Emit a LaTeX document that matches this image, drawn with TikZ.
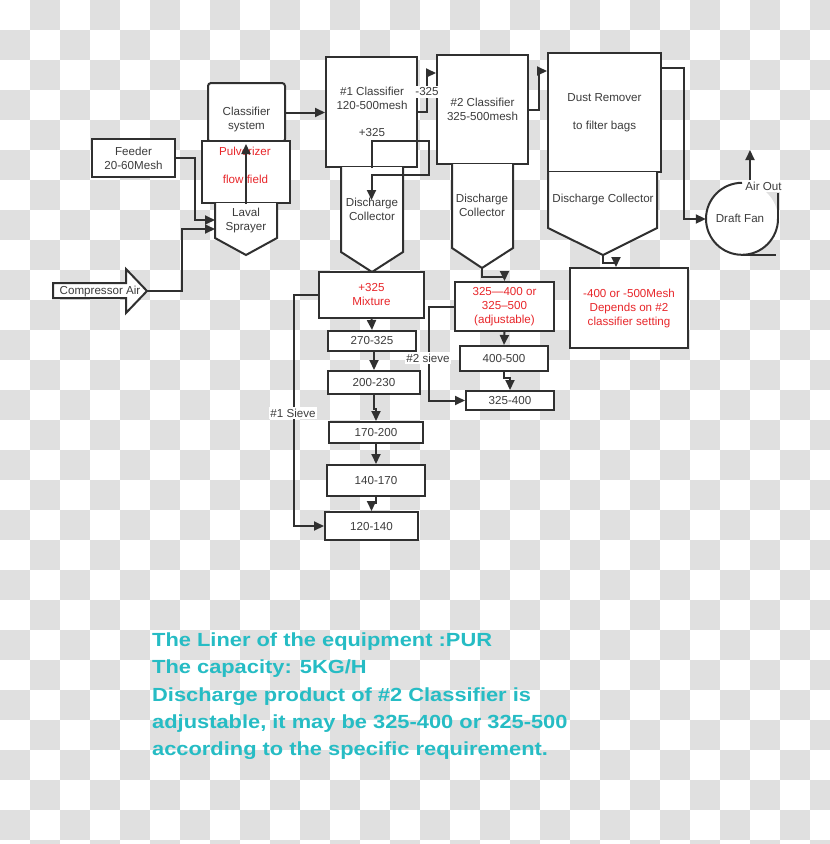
\documentclass[tikz,border=0pt]{standalone}
\usepackage{fontspec}
\setmainfont{Liberation Sans}
\newfontfamily\cyanfont[FakeStretch=1.15]{Liberation Sans}
\usetikzlibrary{arrows.meta,calc}
\definecolor{linec}{RGB}{48,48,48}
\definecolor{textc}{RGB}{60,60,60}
\definecolor{redc}{RGB}{232,38,42}
\definecolor{cyanc}{RGB}{38,188,196}
\definecolor{checkc}{RGB}{224,224,224}
\newcommand\diafont{\fontsize{11.6}{14}\selectfont}
\begin{document}
\begin{tikzpicture}[x=1pt,y=-1pt,
  box/.style={draw=linec,line width=2pt,fill=white,inner sep=0pt,text=textc,font=\diafont,align=center},
  outl/.style={draw=linec,line width=2pt,fill=white},
  ln/.style={draw=linec,line width=2pt},
  arr/.style={draw=linec,line width=2pt,-{Triangle[length=10pt,width=9pt]}},
  txt/.style={text=textc,font=\diafont,align=center,inner sep=0pt},
  redtxt/.style={text=redc,font=\diafont,align=center,inner sep=0pt},
  lbl/.style={fill=white,inner sep=1.5pt,text=textc,font=\diafont},
  cyantxt/.style={text=cyanc,font=\cyanfont\bfseries\fontsize{19}{27}\selectfont,inner sep=0pt,anchor=base west}]
\useasboundingbox (0,0) rectangle (830,844);
% checkered background
\begin{scope}
\clip (0,0) rectangle (830,844);
\fill[white] (0,0) rectangle (830,844);
\foreach \i in {0,...,27}{\foreach \j in {0,...,28}{
  \pgfmathtruncatemacro\chk{mod(\i+\j,2)}
  \ifnum\chk=1 \fill[checkc] ({30*\i},{30*\j}) rectangle ++(30,30);\fi
}}
\end{scope}

% feeder, classifier system, pulverizer, laval
\node[box,minimum width=83pt,minimum height=38pt] (feeder) at (133.5,158) {Feeder\\20-60Mesh};
\node[box,rounded corners=3pt,minimum width=77pt,minimum height=59pt] (clsys) at (246.5,112.5) {};
\node[txt] (clsysT) at (246.5,119) {Classifier\\system};
\node[box,minimum width=88pt,minimum height=62pt] (pulv) at (246,172) {};
\node[redtxt] (pulvA) at (245,151) {Pulverizer};
\node[redtxt] (pulvB) at (245.5,179) {flow field};
\path[outl] (215,203) -- (215,238) -- (246,255) -- (277,238) -- (277,203);
\coordinate (lavalA) at (215,220);
\coordinate (lavalB) at (215,229);
\node[txt] (lavalT) at (246,220.5) {Laval\\Sprayer};

% compressor air
\path[outl] (53,283) -- (126,283) -- (126,269) -- (147,291) -- (126,313) -- (126,298) -- (53,298) -- cycle;
\coordinate (comptip) at (147,291);
\node[txt] (compT) at (100,291) {Compressor Air};

% classifier 1
\node[box,minimum width=91pt,minimum height=110pt] (c1) at (371.5,112) {};
\node[txt] (c1T) at (372,98.4) {\#1 Classifier\\120-500mesh};
\node[txt] (c1P) at (372,133) {+325};
\path[outl] (341,167) -- (341,252) -- (372,272) -- (403,252) -- (403,167);
\node[txt] (col1T) at (372,209) {Discharge\\Collector};
\coordinate (c1arr) at (371.5,200);

% classifier 2
\node[box,minimum width=91pt,minimum height=109pt] (c2) at (482.5,109.5) {\#2 Classifier\\325-500mesh};
\path[outl] (452,164) -- (452,248) -- (482,268) -- (513,248) -- (513,164);
\coordinate (col2tip) at (482,268);
\node[txt] (col2T) at (482,205.3) {Discharge\\Collector};

% dust remover
\node[box,minimum width=113pt,minimum height=119pt] (dust) at (604.5,112.5) {Dust Remover\\[14pt]to filter bags};
\path[outl] (548,172) -- (548,228) -- (603,255) -- (657,228) -- (657,172);
\coordinate (col3tip) at (603,255);
\node[txt] (col3T) at (603,199) {Discharge Collector};

% draft fan
\node[circle,minimum size=72pt,inner sep=0pt,fill=white] (fan) at (742,219) {};
\node[txt] (fanT) at (740,218.5) {Draft Fan};
\draw[ln] (fan.north) arc[start angle=90,end angle=360,radius=36pt];
\draw[ln] (fan.east) -- ++(0,-26);
\draw[ln] (fan.south) -- ++(34,0);
\node[lbl] (airout) at (763.5,186) {Air Out};
\coordinate (airtop) at (750,150);
\draw[arr] (airout.north -| airtop) -- (airtop);

% result box
\node[box,text=redc,minimum width=118pt,minimum height=80pt] (res) at (629,308) {-400 or -500Mesh\\Depends on \#2\\classifier setting};

% #1 sieve column
\node[box,text=redc,minimum width=105pt,minimum height=46pt] (mix) at (371.5,295) {+325\\Mixture};
\node[box,minimum width=88pt,minimum height=20pt] (b270) at (372,341) {270-325};
\node[box,minimum width=92pt,minimum height=23pt] (b200) at (374,382.5) {200-230};
\node[box,minimum width=94pt,minimum height=21pt] (b170) at (376,432.5) {170-200};
\node[box,minimum width=98pt,minimum height=31pt] (b140) at (376,480.5) {140-170};
\node[box,minimum width=93pt,minimum height=28pt] (b120) at (371.5,526) {120-140};

% #2 sieve column
\node[box,text=redc,minimum width=99pt,minimum height=49pt] (adj) at (504.5,306.5) {325—400 or\\325–500\\(adjustable)};
\node[box,minimum width=88pt,minimum height=25pt] (b400) at (504,358.5) {400-500};
\node[box,minimum width=88pt,minimum height=19pt] (b325) at (510,400.5) {325-400};

% connectors
\draw[arr] (feeder.east) -| (195,220) -- (lavalA);
\draw[arr] (comptip) -| (182,229) -- (lavalB);
\draw[arr] (pulv.south) -- ($(pulv.north)+(0,4)$);
\draw[arr] (clsys.east) -- (clsys.east -| c1.west);
\draw[arr] (c1.east) -| (427,73) -- (c2.west |- 427,73);
\node[lbl] (lab325) at (427,92) {-325};
\draw[arr] (c2.east) -| (539,71) -- (dust.west |- 539,71);
\draw[arr] ([yshift=-16pt]dust.north east) -| (684,219) -- (fan.west);
\draw[arr] (c1.south) -- (371.5,141) -- (429,141) -- (429,175) -- (371.5,175) -- (c1arr);
\draw[arr] (col3tip) -- ++(0,8) -| (res.north -| 616,0);
\draw[arr] (col2tip) -- ++(0,9) -| (adj.north);
\draw[arr] (adj.south) -- (b400.north);
\draw[arr] (b400.south) -- ++(0,6) -| (b325.north);
\draw[arr] (adj.west) -| (429,400.5) -- (b325.west);
\node[lbl] (lab2s) at (428,358) {\#2 sieve};
\draw[arr] (mix.south) -- (b270.north);
\draw[arr] (b270.south -| b200.north) -- (b200.north);
\draw[arr] (b200.south) -- ++(0,14) -| (b170.north);
\draw[arr] (b170.south) -- (b140.north);
\draw[arr] (b140.south) -- ++(0,6) -| (b120.north);
\draw[arr] (mix.west) -| (294,526) -- (b120.west);
\node[lbl] (lab1s) at (293,413) {\#1 Sieve};

% notes
\node[cyantxt] (t1) at (152,646.7) {The Liner of the equipment :PUR};
\node[cyantxt] (t2) at (152,673.3) {The capacity: 5KG/H};
\node[cyantxt] (t3) at (152,701.7) {Discharge product of \#2 Classifier is};
\node[cyantxt] (t4) at (152,728.3) {adjustable, it may be 325-400 or 325-500};
\node[cyantxt] (t5) at (152,755) {according to the specific requirement.};
\end{tikzpicture}
\end{document}
